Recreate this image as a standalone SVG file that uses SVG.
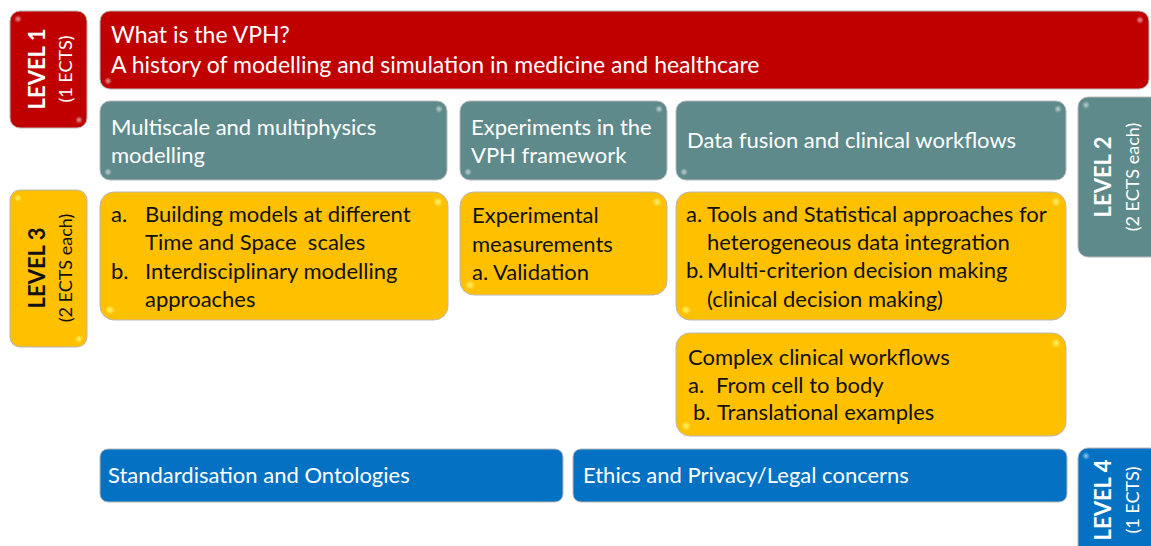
<svg xmlns="http://www.w3.org/2000/svg" width="1151" height="546" viewBox="0 0 1151 546">
  <defs>
    <radialGradient id="gloss">
      <stop offset="0" stop-color="#ffffff" stop-opacity="0.6"/>
      <stop offset="1" stop-color="#ffffff" stop-opacity="0"/>
    </radialGradient>
    <radialGradient id="glossY">
      <stop offset="0" stop-color="#ffff80" stop-opacity="0.85"/>
      <stop offset="1" stop-color="#ffff80" stop-opacity="0"/>
    </radialGradient>
  </defs>
  <style>
    .box { stroke: #b8b8b8; stroke-width: 1; }
    .red { fill: #c00000; }
    .teal { fill: #5e8a8b; }
    .yel { fill: #ffc000; }
    .blue { fill: #0571c3; }
    text { font-family: Lato, "Open Sans", "Liberation Sans", sans-serif; font-size: 22px; white-space: pre; }
    .w { fill: #ffffff; }
    .k { fill: #111111; }
    .big { font-size: 23px; }
    .lvl { font-weight: bold; font-size: 22px; }
    .sub { font-size: 18px; }
  </style>
  <rect width="1151" height="546" fill="#ffffff"/>

  <!-- Level markers -->
  <g id="level1">
    <rect class="box red" x="10" y="11" width="77" height="117" rx="10"/>
    <circle cx="79" cy="120" r="4" fill="url(#gloss)"/>
    <circle cx="18" cy="19" r="4" fill="url(#gloss)"/>
    <text class="w lvl" transform="translate(45,69) rotate(-90)" text-anchor="middle">LEVEL 1</text>
    <text class="w sub" transform="translate(72,69) rotate(-90)" text-anchor="middle">(1 ECTS)</text>
  </g>
  <g id="level2">
    <rect class="box teal" x="1078" y="97" width="82" height="160" rx="10"/>
    <circle cx="1086" cy="105" r="4" fill="url(#gloss)"/>
    <text class="w lvl" transform="translate(1111,177) rotate(-90)" text-anchor="middle">LEVEL 2</text>
    <text class="w sub" transform="translate(1139,177) rotate(-90)" text-anchor="middle">(2 ECTS each)</text>
  </g>
  <g id="level3">
    <rect class="box yel" x="10" y="190" width="77" height="157" rx="10"/>
    <circle cx="18" cy="198" r="4" fill="url(#glossY)"/>
    <circle cx="79" cy="339" r="4" fill="url(#glossY)"/>
    <text class="k lvl" transform="translate(45,268) rotate(-90)" text-anchor="middle">LEVEL 3</text>
    <text class="k sub" transform="translate(72,268) rotate(-90)" text-anchor="middle">(2 ECTS each)</text>
  </g>
  <g id="level4">
    <rect class="box blue" x="1078" y="448" width="82" height="110" rx="10"/>
    <circle cx="1086" cy="456" r="4" fill="url(#gloss)"/>
    <text class="w lvl" transform="translate(1111,500) rotate(-90)" text-anchor="middle">LEVEL 4</text>
    <text class="w sub" transform="translate(1139,500) rotate(-90)" text-anchor="middle">(1 ECTS)</text>
  </g>

  <!-- Level 1 content -->
  <g id="vph-intro">
    <rect class="box red" x="100" y="11" width="1049" height="78" rx="10"/>
    <circle cx="1140" cy="20" r="4" fill="url(#gloss)"/>
    <circle cx="108" cy="81" r="4" fill="url(#gloss)"/>
    <text class="w big" x="111" y="43">What is the VPH?</text>
    <text class="w big" x="111" y="73">A history of modelling and simulation in medicine and healthcare</text>
  </g>

  <!-- Level 2 content -->
  <g id="multiscale">
    <rect class="box teal" x="100" y="101" width="347" height="79" rx="10"/>
    <circle cx="439" cy="109" r="4" fill="url(#gloss)"/>
    <circle cx="108" cy="172" r="4" fill="url(#gloss)"/>
    <text class="w" x="111" y="135">Multiscale and multiphysics</text>
    <text class="w" x="111" y="163">modelling</text>
  </g>
  <g id="experiments">
    <rect class="box teal" x="460" y="101" width="207" height="79" rx="10"/>
    <circle cx="659" cy="109" r="4" fill="url(#gloss)"/>
    <circle cx="468" cy="172" r="4" fill="url(#gloss)"/>
    <text class="w" x="471" y="135">Experiments in the</text>
    <text class="w" x="471" y="163">VPH framework</text>
  </g>
  <g id="data-fusion">
    <rect class="box teal" x="676" y="101" width="390" height="79" rx="10"/>
    <circle cx="1058" cy="109" r="4" fill="url(#gloss)"/>
    <circle cx="684" cy="172" r="4" fill="url(#gloss)"/>
    <text class="w" x="687" y="148">Data fusion and clinical workflows</text>
  </g>

  <!-- Level 3 content -->
  <g id="building-models">
    <rect class="box yel" x="100" y="192" width="348" height="128" rx="14"/>
    <circle cx="438" cy="202" r="5" fill="url(#glossY)"/>
    <circle cx="110" cy="310" r="5" fill="url(#glossY)"/>
    <text class="k" x="111" y="222">a.</text>
    <text class="k" x="145" y="222">Building models at different</text>
    <text class="k" x="145" y="250">Time and Space  scales</text>
    <text class="k" x="111" y="279">b.</text>
    <text class="k" x="145" y="279">Interdisciplinary modelling</text>
    <text class="k" x="145" y="307">approaches</text>
  </g>
  <g id="measurements">
    <rect class="box yel" x="460" y="192" width="207" height="103" rx="14"/>
    <circle cx="657" cy="202" r="5" fill="url(#glossY)"/>
    <circle cx="470" cy="285" r="5" fill="url(#glossY)"/>
    <text class="k" x="472" y="223">Experimental</text>
    <text class="k" x="472" y="252">measurements</text>
    <text class="k" x="472" y="280">a. Validation</text>
  </g>
  <g id="statistics">
    <rect class="box yel" x="676" y="192" width="390" height="128" rx="14"/>
    <circle cx="1056" cy="202" r="5" fill="url(#glossY)"/>
    <circle cx="686" cy="310" r="5" fill="url(#glossY)"/>
    <text class="k" x="686" y="222">a.</text>
    <text class="k" x="707" y="222">Tools and Statistical approaches for</text>
    <text class="k" x="707" y="250">heterogeneous data integration</text>
    <text class="k" x="686" y="278">b.</text>
    <text class="k" x="707" y="278">Multi-criterion decision making</text>
    <text class="k" x="707" y="307">(clinical decision making)</text>
  </g>
  <g id="clinical-workflows">
    <rect class="box yel" x="676" y="333" width="390" height="103" rx="14"/>
    <circle cx="1056" cy="343" r="5" fill="url(#glossY)"/>
    <circle cx="686" cy="426" r="5" fill="url(#glossY)"/>
    <text class="k" x="688" y="365">Complex clinical workflows</text>
    <text class="k" x="688" y="393">a.</text>
    <text class="k" x="716" y="393">From cell to body</text>
    <text class="k" x="693" y="420">b.</text>
    <text class="k" x="717" y="420">Translational examples</text>
  </g>

  <!-- Level 4 content -->
  <g id="standardisation">
    <rect class="box blue" x="100" y="449" width="463" height="53" rx="8"/>
    <text class="w" x="108" y="483">Standardisation and Ontologies</text>
  </g>
  <g id="ethics">
    <rect class="box blue" x="573" y="449" width="494" height="53" rx="8"/>
    <text class="w" x="583" y="483">Ethics and Privacy/Legal concerns</text>
  </g>
</svg>
